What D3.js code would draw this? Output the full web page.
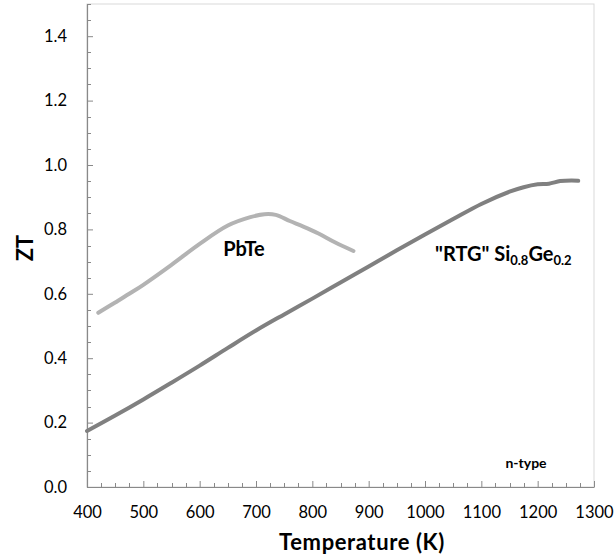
<!DOCTYPE html>
<html>
<head>
<meta charset="utf-8">
<script src="https://cdn.jsdelivr.net/npm/d3@7"></script>
<style>
  html, body { margin: 0; padding: 0; background: #fff; }
  svg { display: block; }
  text { font-family: Lato, "Open Sans", sans-serif; fill: #000; }
</style>
</head>
<body>
<svg id="chart" width="614" height="559"></svg>
<script>
// Thermoelectric figure of merit (ZT) versus temperature, n-type materials
const temperatureSiGe = [400, 450, 500, 550, 600, 650, 700, 750, 800, 850, 900, 950, 1000, 1050, 1100, 1150, 1175, 1200, 1220, 1240, 1260, 1272];
const ztSiGe = [0.174, 0.222, 0.272, 0.324, 0.377, 0.432, 0.486, 0.536, 0.585, 0.635, 0.685, 0.735, 0.784, 0.832, 0.879, 0.917, 0.931, 0.940, 0.942, 0.950, 0.952, 0.951];

const temperaturePbTe = [420, 450, 475, 500, 550, 600, 650, 690, 715, 735, 760, 785, 810, 840, 873];
const ztPbTe = [0.541, 0.573, 0.600, 0.628, 0.690, 0.755, 0.812, 0.838, 0.847, 0.845, 0.826, 0.808, 0.788, 0.760, 0.733];

const xTicks = [400, 500, 600, 700, 800, 900, 1000, 1100, 1200, 1300];
const yTicks = [0.0, 0.2, 0.4, 0.6, 0.8, 1.0, 1.2, 1.4];

const svg = d3.select("#chart");
const plot = { left: 87, right: 594, top: 4, bottom: 487 };

const x = d3.scaleLinear().domain([400, 1300]).range([plot.left, plot.right]);
const y = d3.scaleLinear().domain([0, 1.5]).range([plot.bottom, plot.top]);

// plot-area frame (top and right edges)
svg.append("rect")
  .attr("x", plot.left).attr("y", plot.top)
  .attr("width", plot.right - plot.left).attr("height", plot.bottom - plot.top)
  .attr("fill", "none").attr("stroke", "#d9d9d9").attr("stroke-width", 1);

const axisColor = "#898989";

// minor ticks (inward)
const xMinor = d3.range(400, 1301, 25).filter(v => v % 100 !== 0);
const yMinor = d3.range(0, 31).map(i => i * 0.05).filter((v, i) => i % 4 !== 0);

const xAxis = svg.append("g").attr("transform", `translate(0,${plot.bottom})`);
xAxis.selectAll("line.minor").data(xMinor).enter().append("line")
  .attr("x1", d => Math.round(x(d)) + 0.5).attr("x2", d => Math.round(x(d)) + 0.5)
  .attr("y1", 0).attr("y2", -4).attr("stroke", axisColor);
xAxis.call(d3.axisBottom(x).tickValues(xTicks).tickSizeInner(-6).tickSizeOuter(0).tickPadding(19)
  .tickFormat(d3.format("d")));

const yAxis = svg.append("g").attr("transform", `translate(${plot.left},0)`);
yAxis.selectAll("line.minor").data(yMinor).enter().append("line")
  .attr("y1", d => Math.round(y(d)) + 0.5).attr("y2", d => Math.round(y(d)) + 0.5)
  .attr("x1", 0).attr("x2", 4).attr("stroke", axisColor);
yAxis.call(d3.axisLeft(y).tickValues(yTicks).tickSizeInner(-6).tickSizeOuter(0).tickPadding(20)
  .tickFormat(d3.format(".1f")));

[xAxis, yAxis].forEach(g => {
  g.select(".domain").attr("stroke", axisColor).attr("stroke-width", 1.2);
  g.selectAll(".tick line").attr("stroke", axisColor);
  g.selectAll(".tick text").attr("font-family", "Lato, sans-serif").attr("font-size", 16.5).attr("fill", "#000");
});

// curves
const line = d3.line()
  .x(d => x(d[0]))
  .y(d => y(d[1]))
  .curve(d3.curveCatmullRom.alpha(0.5));

svg.append("path")
  .datum(d3.zip(temperaturePbTe, ztPbTe))
  .attr("d", line)
  .attr("fill", "none").attr("stroke", "#b3b3b3").attr("stroke-width", 4)
  .attr("stroke-linecap", "round").attr("stroke-linejoin", "round");

svg.append("path")
  .datum(d3.zip(temperatureSiGe, ztSiGe))
  .attr("d", line)
  .attr("fill", "none").attr("stroke", "#808080").attr("stroke-width", 4)
  .attr("stroke-linecap", "round").attr("stroke-linejoin", "round");

// series labels
svg.append("text")
  .attr("x", 244).attr("y", 256)
  .attr("text-anchor", "middle").attr("font-weight", "bold").attr("font-size", 20)
  .text("PbTe");

const sige = svg.append("text")
  .attr("x", 435).attr("y", 261)
  .attr("font-weight", "bold").attr("font-size", 20);
sige.append("tspan").text("\"RTG\" Si");
sige.append("tspan").attr("font-size", 13).attr("dy", 4).text("0.8");
sige.append("tspan").attr("dy", -4).text("Ge");
sige.append("tspan").attr("font-size", 13).attr("dy", 4).text("0.2");

svg.append("text")
  .attr("x", 526).attr("y", 468)
  .attr("text-anchor", "middle").attr("font-weight", "bold").attr("font-size", 14)
  .attr("font-family", "'Liberation Sans', Arial, sans-serif")
  .text("n-type");

// axis titles
svg.append("text")
  .attr("x", 362).attr("y", 550)
  .attr("text-anchor", "middle").attr("font-weight", "bold").attr("font-size", 22)
  .attr("letter-spacing", 0.6)
  .text("Temperature (K)");

svg.append("text")
  .attr("transform", "translate(33,248) rotate(-90)")
  .attr("text-anchor", "middle").attr("font-weight", "bold").attr("font-size", 22)
  .text("ZT");
</script>
</body>
</html>
